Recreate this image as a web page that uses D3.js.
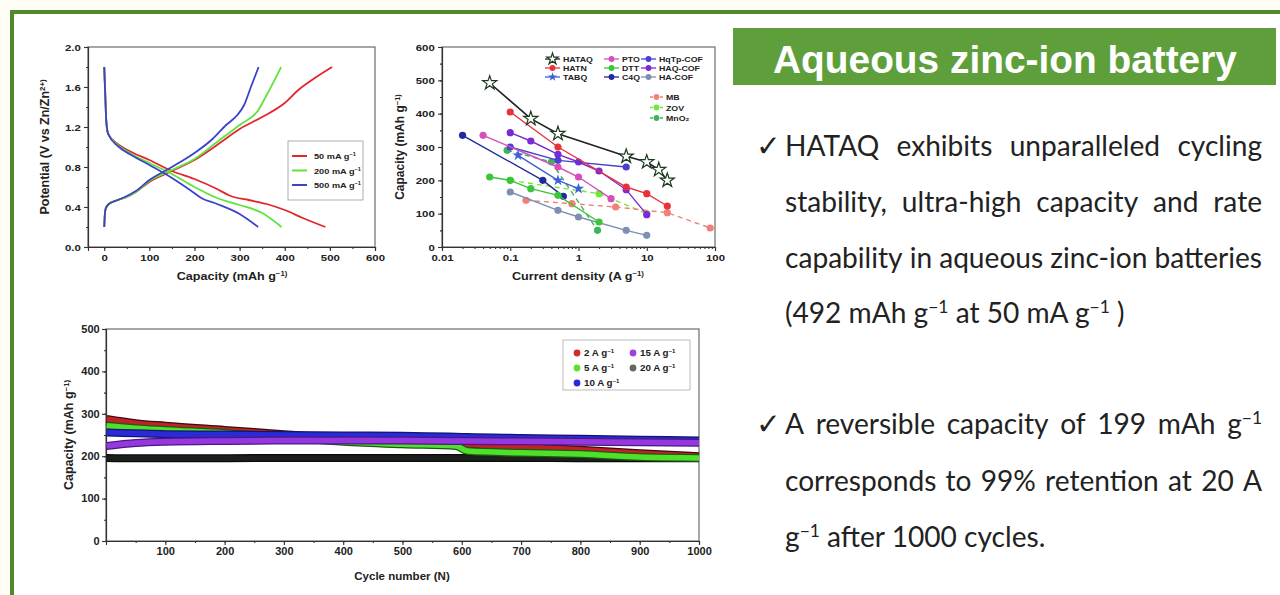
<!DOCTYPE html>
<html>
<head>
<meta charset="utf-8">
<script src="https://cdn.jsdelivr.net/npm/d3@7"></script>
<style>
  body { margin: 0; background: #fffdf6; }
  svg { display: block; }
  .ax text { font-family: 'Liberation Sans', Arial, sans-serif; font-weight: bold; font-size: 10px; fill: #222; }
  .ax path, .ax line { stroke: #333; stroke-width: 1.1; }
  .lbl { font-family: 'Liberation Sans', Arial, sans-serif; font-weight: bold; fill: #222; }
</style>
</head>
<body>
<div id="show-graph"></div>
<script>
// ---------- data ----------
// galvanostatic charge / discharge profiles: [capacity (mAh/g), potential (V)]
var gcdLabels = ['50 mA g^−1', '200 mA g^−1', '500 mA g^−1']
var gcdColors = ['#e3262c', '#62e23c', '#3a44c8']
var dis50 = [[0, 1.8], [2, 1.55], [4, 1.3], [7, 1.16], [10, 1.12], [30, 1.03], [60, 0.95], [100, 0.87], [150, 0.76], [200, 0.68], [250, 0.58], [280, 0.51], [320, 0.47], [360, 0.43], [400, 0.37], [440, 0.29], [490, 0.2]]
var cha50 = [[0, 0.2], [1, 0.3], [3, 0.38], [10, 0.43], [30, 0.47], [50, 0.5], [70, 0.55], [100, 0.65], [150, 0.76], [200, 0.87], [250, 1.02], [300, 1.18], [350, 1.3], [400, 1.44], [430, 1.57], [470, 1.7], [505, 1.8]]
var dis200 = [[0, 1.8], [2, 1.55], [4, 1.3], [7, 1.16], [10, 1.12], [30, 1.02], [60, 0.93], [100, 0.84], [150, 0.73], [200, 0.6], [250, 0.49], [300, 0.42], [350, 0.34], [393, 0.2]]
var cha200 = [[0, 0.2], [1, 0.3], [3, 0.38], [10, 0.43], [30, 0.47], [50, 0.5], [70, 0.55], [100, 0.66], [150, 0.77], [200, 0.88], [250, 1.05], [300, 1.22], [340, 1.36], [360, 1.52], [392, 1.8]]
var dis500 = [[0, 1.8], [2, 1.55], [4, 1.3], [7, 1.16], [10, 1.12], [30, 1.01], [60, 0.92], [100, 0.82], [150, 0.69], [190, 0.57], [215, 0.49], [250, 0.43], [300, 0.33], [341, 0.2]]
var cha500 = [[0, 0.2], [1, 0.3], [3, 0.38], [10, 0.43], [30, 0.47], [50, 0.51], [70, 0.56], [100, 0.67], [150, 0.8], [200, 0.94], [240, 1.08], [270, 1.22], [295, 1.32], [310, 1.42], [325, 1.6], [342, 1.8]]
var gcdTicksX = [0, 100, 200, 300, 400, 500, 600]
var gcdTicksY = [0, 0.4, 0.8, 1.2, 1.6, 2.0]

// rate capability comparison: [current density (A/g), capacity (mAh/g)]
var hataq = [[0.05, 492], [0.2, 385], [0.5, 340], [5, 272], [10, 255], [15, 232], [20, 200]]
var hatn = [[0.1, 405], [0.5, 300], [5, 180], [10, 160], [20, 123]]
var tabq = [[0.13, 275], [0.5, 200], [1, 175]]
var pto = [[0.04, 335], [0.5, 240], [1, 210], [3, 145]]
var dtt = [[0.05, 210], [0.1, 200], [0.2, 175], [0.5, 155], [2, 75]]
var c4q = [[0.02, 335], [0.3, 200], [0.6, 152]]
var hqtp = [[0.1, 300], [0.5, 260], [5, 240]]
var haqcof = [[0.1, 343], [0.2, 318], [0.5, 278], [1, 255], [2, 228], [5, 172], [10, 97]]
var hacof = [[0.1, 165], [0.5, 110], [1, 90], [5, 50], [10, 35]]
var mb = [[0.17, 140], [0.8, 130], [3.5, 120], [20, 103], [85, 57]]
var zov = [[0.1, 200], [2, 160], [10, 100]]
var mno2 = [[0.09, 290], [0.4, 255], [1.9, 50]]
var rateNames = ['HATAQ', 'HATN', 'TABQ', 'PTO', 'DTT', 'C4Q', 'HqTp-COF', 'HAQ-COF', 'HA-COF', 'MB', 'ZOV', 'MnO₂']
var rateTicksX = [0.01, 0.1, 1, 10, 100]
var rateTickLabels = ['0.01', '0.1', '1', '10', '100']
var rateTicksY = [0, 100, 200, 300, 400, 500, 600]

// long-term cycling (anchor cycles of each band)
var cycles = [1, 50, 100, 200, 300, 400, 500, 590, 610, 700, 800, 900, 1000]
var cap2 = [288, 278, 272, 262, 252, 242, 237, 232, 228, 222, 215, 207, 200]
var cap5 = [272, 266, 262, 255, 245, 234, 228, 224, 212, 208, 205, 198, 196]
var cap10 = [256, 254, 252, 251, 250, 249, 248, 246, 245, 243, 241, 239, 237]
var cap15 = [224, 231, 234, 236, 237, 237, 237, 236, 236, 235, 234, 233, 232]
var cap20 = [196, 195, 195, 195, 196, 196, 196, 196, 196, 196, 195, 195, 195]
var cycLabels = ['2 A g^−1', '5 A g^−1', '10 A g^−1', '15 A g^−1', '20 A g^−1']
var cycTicksX = [100, 200, 300, 400, 500, 600, 700, 800, 900, 1000]
var cycTicksY = [0, 100, 200, 300, 400, 500]

// ---------- helpers ----------
var svg = d3.select('#show-graph').append('svg')
  .attr('width', 1280).attr('height', 595)

// append text where "^xx" becomes a superscript
function rich (sel, str) {
  str.split(/(\^\S+)/).forEach(function (p) {
    if (!p) return
    if (p[0] === '^') {
      sel.append('tspan').attr('baseline-shift', 'super').style('font-size', '62%').text(p.slice(1))
    } else {
      sel.append('tspan').text(p)
    }
  })
  return sel
}

// bold label, sx widens it the way the source figure is stretched
function label (x, y, str, size, anchor, sx, rot) {
  var t = svg.append('text').attr('class', 'lbl')
    .attr('text-anchor', anchor).style('font-size', size + 'px')
    .attr('transform', 'translate(' + x + ',' + y + ')' + (rot ? ' rotate(-90)' : '') + ' scale(' + sx + ',1)')
  return rich(t, str)
}

function frame (x, y) {
  var r = x.range(); var h = y.range()
  svg.append('rect')
    .attr('x', r[0]).attr('y', h[1]).attr('width', r[1] - r[0]).attr('height', h[0] - h[1])
    .attr('fill', 'none').attr('stroke', '#777').attr('stroke-width', 1.3)
}

function axes (x, y, xt, yt, xminor, yminor, xfmt, yfmt, sx, fsz) {
  var g = svg.append('g').attr('class', 'ax')
  g.append('g').attr('transform', 'translate(0,' + y.range()[0] + ')')
    .call(d3.axisBottom(x).tickValues(xminor).tickSize(2).tickFormat(''))
  g.append('g').attr('transform', 'translate(' + x.range()[0] + ',0)')
    .call(d3.axisLeft(y).tickValues(yminor).tickSize(2).tickFormat(''))
  g.append('g').attr('transform', 'translate(0,' + y.range()[0] + ')')
    .call(d3.axisBottom(x).tickValues(xt).tickSize(4).tickPadding(3).tickFormat(xfmt))
  g.append('g').attr('transform', 'translate(' + x.range()[0] + ',0)')
    .call(d3.axisLeft(y).tickValues(yt).tickSize(4).tickPadding(2).tickFormat(yfmt))
  g.selectAll('.tick text').attr('transform', 'scale(' + sx + ',1)').style('font-size', fsz + 'px')
}

// ---------- page frame ----------
svg.append('rect').attr('x', 12).attr('y', 12).attr('width', 1268).attr('height', 583).attr('fill', '#fff')
svg.append('line').attr('x1', 10).attr('x2', 1280).attr('y1', 12).attr('y2', 12).attr('stroke', '#4f8a2c').attr('stroke-width', 4)
svg.append('line').attr('x1', 12).attr('x2', 12).attr('y1', 10).attr('y2', 595).attr('stroke', '#4f8a2c').attr('stroke-width', 4)

// ---------- chart 1: GCD ----------
var x1 = d3.scaleLinear().domain([-36, 600]).range([88, 375])
var y1 = d3.scaleLinear().domain([0, 2]).range([247, 47])
frame(x1, y1)
axes(x1, y1, gcdTicksX, gcdTicksY, d3.range(0, 601, 50), d3.range(0, 2.01, 0.2), d3.format('d'), d3.format('.1f'), 1.2, 9.5)

var gcdLine = d3.line().curve(d3.curveMonotoneX)
  .x(function (d) { return x1(d[0]) })
  .y(function (d) { return y1(d[1]) })
var gcdCurves = [[dis50, cha50], [dis200, cha200], [dis500, cha500]]
gcdCurves.forEach(function (pair, i) {
  pair.forEach(function (c) {
    svg.append('path').datum(c).attr('d', gcdLine)
      .attr('fill', 'none').attr('stroke', gcdColors[i]).attr('stroke-width', 1.8)
  })
})
svg.append('rect').attr('x', 288).attr('y', 141).attr('width', 75).attr('height', 59)
  .attr('fill', '#fff').attr('stroke', '#999').attr('stroke-width', 0.8)
gcdLabels.forEach(function (s, i) {
  var yy = 156 + i * 14.5
  svg.append('line').attr('x1', 292).attr('x2', 307).attr('y1', yy).attr('y2', yy)
    .attr('stroke', gcdColors[i]).attr('stroke-width', 2)
  label(314, yy + 3, s, 8, 'start', 1.15, false)
})
label(49, 147, 'Potential (V vs Zn/Zn^2+)', 12.5, 'middle', 1, true)
label(232, 280, 'Capacity (mAh g^−1)', 10.5, 'middle', 1.2, false)

// ---------- chart 2: rate comparison ----------
var x2 = d3.scaleLog().domain([0.01, 100]).range([442, 715])
var y2 = d3.scaleLinear().domain([0, 600]).range([247, 47])
frame(x2, y2)
var logMinor = []
rateTicksX.slice(0, 4).forEach(function (d) { d3.range(2, 10).forEach(function (k) { logMinor.push(d * k) }) })
axes(x2, y2, rateTicksX, rateTicksY, logMinor, d3.range(0, 601, 50),
  function (d, i) { return rateTickLabels[i] }, d3.format('d'), 1.2, 9.5)

var rateData = [hataq, hatn, tabq, pto, dtt, c4q, hqtp, haqcof, hacof, mb, zov, mno2]
var rateColors = ['#222', '#e8323a', '#3d5fd8', '#d450b8', '#3cc43c', '#1f2a9c', '#4740d0', '#7a2ad6', '#7d8fb2', '#f28078', '#6ee83a', '#3fb35a']
var rateMarks = ['hstar', 'dot', 'star', 'dot', 'dot', 'dot', 'dot', 'dot', 'dot', 'dot', 'dot', 'dot']
var rateDash = [0, 0, 0, 0, 0, 0, 0, 0, 0, 1, 1, 1]
var rateLine = d3.line()
  .x(function (d) { return x2(d[0]) })
  .y(function (d) { return y2(d[1]) })

function marker (g, kind, color, px, py, s) {
  if (kind === 'dot') {
    g.append('circle').attr('cx', px).attr('cy', py).attr('r', 3.6 * s).attr('fill', color)
  } else {
    g.append('path').attr('transform', 'translate(' + px + ',' + py + ')')
      .attr('d', d3.symbol(d3.symbolStar, (kind === 'hstar' ? 62 : 40) * s * s)())
      .attr('fill', kind === 'hstar' ? '#fff' : color)
      .attr('stroke', kind === 'hstar' ? '#1e3a1e' : 'none').attr('stroke-width', 1.2)
  }
}

// draw back to front so HATAQ stays on top
d3.range(rateData.length - 1, -1, -1).forEach(function (i) {
  var g = svg.append('g')
  g.append('path').datum(rateData[i]).attr('d', rateLine)
    .attr('fill', 'none').attr('stroke', rateColors[i]).attr('stroke-width', i === 0 ? 1.6 : 1.4)
    .attr('stroke-dasharray', rateDash[i] ? '5,4' : null)
  rateData[i].forEach(function (d) { marker(g, rateMarks[i], rateColors[i], x2(d[0]), y2(d[1]), 1) })
})

// legend
var legCols = [545, 604, 641]
var legRows = [59, 68, 77]
rateNames.forEach(function (n, i) {
  var lx, ly, w
  if (i < 9) {
    lx = legCols[Math.floor(i / 3)]; ly = legRows[i % 3]; w = 15
  } else {
    lx = 650; ly = 97 + (i - 9) * 10.5; w = 13
  }
  svg.append('line').attr('x1', lx).attr('x2', lx + w).attr('y1', ly).attr('y2', ly)
    .attr('stroke', rateColors[i]).attr('stroke-width', 1.3)
    .attr('stroke-dasharray', rateDash[i] ? '3,2' : null)
  marker(svg, rateMarks[i], rateColors[i], lx + w / 2, ly, 0.8)
  label(lx + w + 3, ly + 3, n, 8, 'start', 1.1, false)
})
label(404, 147, 'Capacity (mAh g^−1)', 12, 'middle', 1, true)
label(578, 280, 'Current density (A g^−1)', 10.5, 'middle', 1.2, false)

// ---------- chart 3: cycling ----------
var x3 = d3.scaleLinear().domain([0, 1000]).range([106, 699])
var y3 = d3.scaleLinear().domain([0, 500]).range([541, 329])
frame(x3, y3)
axes(x3, y3, cycTicksX, cycTicksY, d3.range(50, 1001, 50), d3.range(0, 501, 50), d3.format('d'), d3.format('d'), 1.05, 10.5)

var cycSeries = [cap20, cap2, cap5, cap10, cap15]
var cycColors = ['#1c201c', '#c42028', '#4ee02a', '#2a2ad8', '#9638e0']
var cycEdges = ['#0a0a0a', '#3a0c0c', '#1d5a12', '#141470', '#4a1a80']
var cycLine = d3.line().curve(d3.curveMonotoneX)
  .x(function (d, i) { return x3(cycles[i]) })
  .y(function (d) { return y3(d) })
cycSeries.forEach(function (s, i) {
  svg.append('path').datum(s).attr('d', cycLine)
    .attr('fill', 'none').attr('stroke', cycEdges[i]).attr('stroke-width', 8)
  svg.append('path').datum(s).attr('d', cycLine)
    .attr('fill', 'none').attr('stroke', cycColors[i]).attr('stroke-width', 5.5)
})

svg.append('rect').attr('x', 563).attr('y', 340).attr('width', 127).attr('height', 50)
  .attr('fill', '#fff').attr('stroke', '#aaa').attr('stroke-width', 0.8)
var cycLegColors = ['#d42a2a', '#5ee02c', '#2a2ad8', '#a040e0', '#606a60']
var cycLegPos = [[577, 353], [577, 368], [577, 383], [633, 353], [633, 368]]
cycLabels.forEach(function (s, i) {
  var p = cycLegPos[i]
  svg.append('circle').attr('cx', p[0]).attr('cy', p[1]).attr('r', 3.4).attr('fill', cycLegColors[i])
  label(p[0] + 7, p[1] + 3.2, s, 8.5, 'start', 1.15, false)
})
label(73, 435, 'Capacity (mAh g^−1)', 12.5, 'middle', 1, true)
label(402, 580, 'Cycle number (N)', 11, 'middle', 1.05, false)

// ---------- right panel ----------
svg.append('rect').attr('x', 733).attr('y', 28).attr('width', 543).attr('height', 57).attr('fill', '#5e9f3c')
var ban = svg.append('text').attr('x', 1005).attr('y', 73).attr('text-anchor', 'middle')
  .style('font-family', "'Liberation Sans', Arial, sans-serif").style('font-weight', 'bold')
  .style('font-size', '38px').attr('fill', '#fff').text('Aqueous zinc-ion battery')
var bw = ban.node().getComputedTextLength()
ban.style('font-size', (38 * 464 / bw) + 'px')

var bullet1 = ['HATAQ exhibits unparalleled cycling', 'stability, ultra-high capacity and rate', 'capability in aqueous zinc-ion batteries', '(492 mAh g^−1 at 50 mA g^−1 )']
var bullet2 = ['A reversible capacity of 199 mAh g^−1', 'corresponds to 99% retention at 20 A', 'g^−1 after 1000 cycles.']
var lineY1 = [156, 212, 268, 323]
var lineY2 = [434, 491, 547]

var txt = svg.append('g').style('font-family', "Lato, 'Open Sans', sans-serif").attr('fill', '#222')
var probe = txt.append('text').style('font-size', '100px').text(bullet1[2])
var fs = 100 * 477 / probe.node().getComputedTextLength()
probe.remove()
txt.style('font-size', fs + 'px')

function textLine (str, y, justified) {
  var x0 = 785; var x1 = 1262
  if (!justified) {
    rich(txt.append('text').attr('x', x0).attr('y', y), str)
    return
  }
  var words = str.split(' ')
  var nodes = words.map(function (w) { return rich(txt.append('text').attr('y', y), w) })
  var widths = nodes.map(function (n) { return n.node().getComputedTextLength() })
  var gap = (x1 - x0 - d3.sum(widths)) / (words.length - 1)
  var x = x0
  nodes.forEach(function (n, i) { n.attr('x', x); x += widths[i] + gap })
}

bullet1.forEach(function (s, i) { textLine(s, lineY1[i], i < 3) })
bullet2.forEach(function (s, i) { textLine(s, lineY2[i], i < 2) })
;[lineY1[0], lineY2[0]].forEach(function (yy) {
  txt.append('text').attr('x', 756).attr('y', yy).style('font-family', "'DejaVu Sans'")
    .style('font-size', (fs * 1.05) + 'px').text('✓')
})
</script>
</body>
</html>
